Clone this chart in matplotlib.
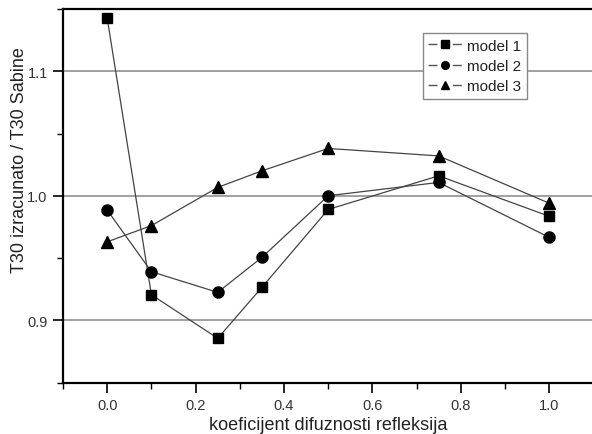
import matplotlib.pyplot as plt
from matplotlib.lines import Line2D
from matplotlib.legend_handler import HandlerTuple
from matplotlib.ticker import MultipleLocator

plt.rcParams['font.family'] = ['Liberation Sans', 'DejaVu Sans']

# diffusion coefficients and T30 ratios for the three models
x1 = [0.0, 0.1, 0.25, 0.35, 0.5, 0.75, 1.0]
model1 = [1.1426, 0.9205, 0.8855, 0.9264, 0.989, 1.016, 0.9835]
x2 = [0.0, 0.1, 0.25, 0.35, 0.5, 0.75, 1.0]
model2 = [0.9885, 0.939, 0.9224, 0.9505, 1.0, 1.0107, 0.9666]
x3 = [0.0, 0.1, 0.25, 0.35, 0.5, 0.75, 1.0]
model3 = [0.963, 0.976, 1.0067, 1.020, 1.038, 1.032, 0.994]
labels = ['model 1', 'model 2', 'model 3']
markers = ['s', 'o', '^']

fig = plt.figure(figsize=(5.92, 4.35), dpi=100)
ax = fig.add_axes([63 / 592, 51.5 / 435, 530.4 / 592, 373.5 / 435])

line_kw = dict(color='#444444', lw=0.9, markerfacecolor='black', markeredgecolor='black')
ax.plot(x1, model1, marker='s', ms=7, **line_kw)
ax.plot(x2, model2, marker='o', ms=8, **line_kw)
ax.plot(x3, model3, marker='^', ms=8.5, **line_kw)

ax.set_xlim(-0.1, 1.1)
ax.set_ylim(0.85, 1.15)
ax.xaxis.set_major_locator(MultipleLocator(0.2))
ax.xaxis.set_minor_locator(MultipleLocator(0.1))
ax.yaxis.set_major_locator(MultipleLocator(0.1))
ax.yaxis.set_minor_locator(MultipleLocator(0.05))
ax.xaxis.set_major_formatter(lambda v, p: f'{v:.1f}')
ax.yaxis.set_major_formatter(lambda v, p: f'{v:.1f}')

ax.grid(axis='y', which='major', color='#999999', lw=1.3)
ax.set_axisbelow(True)

ax.tick_params(which='major', direction='out', length=7, width=1.2, labelsize=10.5,
               labelcolor='#333333', pad=4)
ax.tick_params(which='minor', direction='out', length=4, width=1.0)
for side in ['left', 'bottom', 'top']:
    ax.spines[side].set_linewidth(1.6)
ax.spines['right'].set_visible(False)

ax.set_xlabel('koeficijent difuznosti refleksija', fontsize=13, color='#222222', labelpad=3)
ax.set_ylabel('T30 izracunato / T30 Sabine', fontsize=13, color='#222222')
ax.yaxis.set_label_coords(-0.066, 0.598)

# legend entries: broken line with the marker sitting in the gap
handles = []
for m in markers:
    seg = Line2D([], [], color='#555555', lw=1.0, linestyle=(0, (6.5, 11, 6.5, 20)))
    mk = Line2D([], [], color='black', marker=m, ms=5.5, linestyle='none')
    handles.append((seg, mk))
leg = ax.legend(handles, labels, handler_map={tuple: HandlerTuple(ndivide=1, pad=0)},
                loc='upper left', bbox_to_anchor=(0.679, 0.935), borderaxespad=0,
                fontsize=11, handlelength=2.2, handletextpad=0.35, borderpad=0.35,
                labelspacing=0.42, fancybox=False, framealpha=1)
leg.get_frame().set_edgecolor('#888888')
leg.get_frame().set_linewidth(1.0)
for t in leg.get_texts():
    t.set_color('#222222')

fig.savefig('out.png', dpi=100)
